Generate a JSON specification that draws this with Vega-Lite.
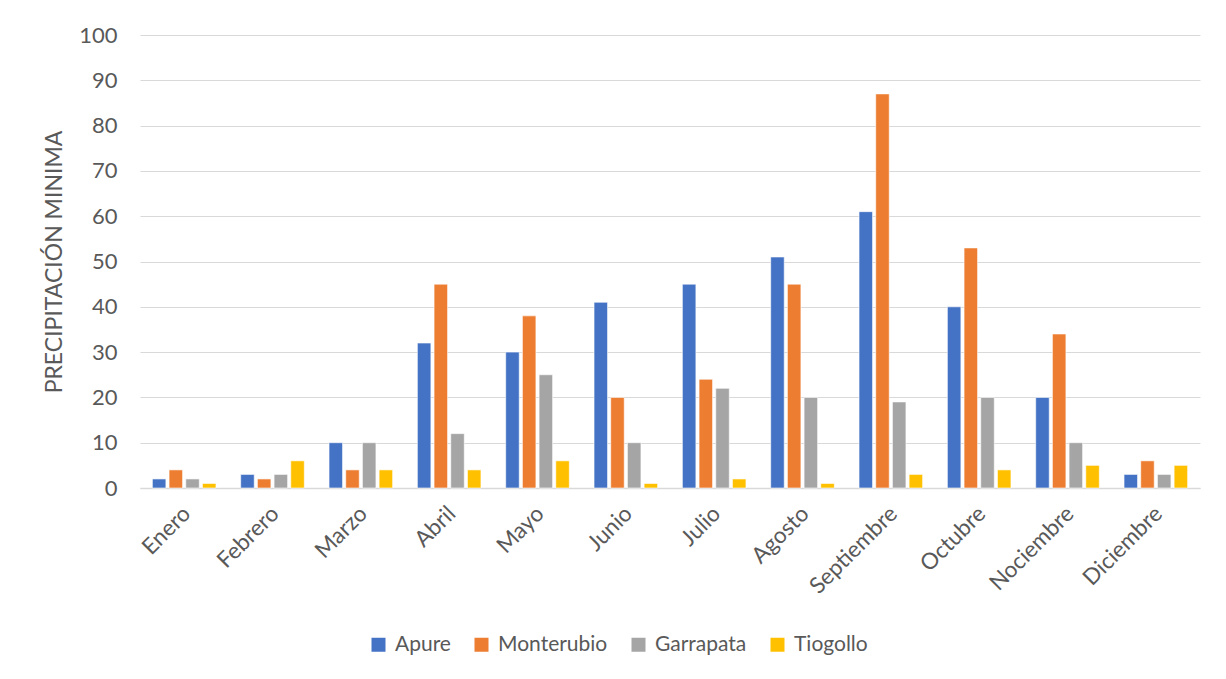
{
  "$schema": "https://vega.github.io/schema/vega-lite/v6.json",
  "width": 1060,
  "height": 453,
  "autosize": {"type": "none"},
  "padding": {"left": 140, "top": 35, "right": 26, "bottom": 191},
  "background": "white",
  "data": {"values": [
    {"mes": "Enero", "estacion": "Apure", "v": 2},
    {"mes": "Enero", "estacion": "Monterubio", "v": 4},
    {"mes": "Enero", "estacion": "Garrapata", "v": 2},
    {"mes": "Enero", "estacion": "Tiogollo", "v": 1},
    {"mes": "Febrero", "estacion": "Apure", "v": 3},
    {"mes": "Febrero", "estacion": "Monterubio", "v": 2},
    {"mes": "Febrero", "estacion": "Garrapata", "v": 3},
    {"mes": "Febrero", "estacion": "Tiogollo", "v": 6},
    {"mes": "Marzo", "estacion": "Apure", "v": 10},
    {"mes": "Marzo", "estacion": "Monterubio", "v": 4},
    {"mes": "Marzo", "estacion": "Garrapata", "v": 10},
    {"mes": "Marzo", "estacion": "Tiogollo", "v": 4},
    {"mes": "Abril", "estacion": "Apure", "v": 32},
    {"mes": "Abril", "estacion": "Monterubio", "v": 45},
    {"mes": "Abril", "estacion": "Garrapata", "v": 12},
    {"mes": "Abril", "estacion": "Tiogollo", "v": 4},
    {"mes": "Mayo", "estacion": "Apure", "v": 30},
    {"mes": "Mayo", "estacion": "Monterubio", "v": 38},
    {"mes": "Mayo", "estacion": "Garrapata", "v": 25},
    {"mes": "Mayo", "estacion": "Tiogollo", "v": 6},
    {"mes": "Junio", "estacion": "Apure", "v": 41},
    {"mes": "Junio", "estacion": "Monterubio", "v": 20},
    {"mes": "Junio", "estacion": "Garrapata", "v": 10},
    {"mes": "Junio", "estacion": "Tiogollo", "v": 1},
    {"mes": "Julio", "estacion": "Apure", "v": 45},
    {"mes": "Julio", "estacion": "Monterubio", "v": 24},
    {"mes": "Julio", "estacion": "Garrapata", "v": 22},
    {"mes": "Julio", "estacion": "Tiogollo", "v": 2},
    {"mes": "Agosto", "estacion": "Apure", "v": 51},
    {"mes": "Agosto", "estacion": "Monterubio", "v": 45},
    {"mes": "Agosto", "estacion": "Garrapata", "v": 20},
    {"mes": "Agosto", "estacion": "Tiogollo", "v": 1},
    {"mes": "Septiembre", "estacion": "Apure", "v": 61},
    {"mes": "Septiembre", "estacion": "Monterubio", "v": 87},
    {"mes": "Septiembre", "estacion": "Garrapata", "v": 19},
    {"mes": "Septiembre", "estacion": "Tiogollo", "v": 3},
    {"mes": "Octubre", "estacion": "Apure", "v": 40},
    {"mes": "Octubre", "estacion": "Monterubio", "v": 53},
    {"mes": "Octubre", "estacion": "Garrapata", "v": 20},
    {"mes": "Octubre", "estacion": "Tiogollo", "v": 4},
    {"mes": "Nociembre", "estacion": "Apure", "v": 20},
    {"mes": "Nociembre", "estacion": "Monterubio", "v": 34},
    {"mes": "Nociembre", "estacion": "Garrapata", "v": 10},
    {"mes": "Nociembre", "estacion": "Tiogollo", "v": 5},
    {"mes": "Diciembre", "estacion": "Apure", "v": 3},
    {"mes": "Diciembre", "estacion": "Monterubio", "v": 6},
    {"mes": "Diciembre", "estacion": "Garrapata", "v": 3},
    {"mes": "Diciembre", "estacion": "Tiogollo", "v": 5}
  ]},
  "mark": {"type": "bar", "stroke": "white", "strokeWidth": 0.6},
  "encoding": {
    "x": {
      "field": "mes", "type": "nominal",
      "sort": ["Enero","Febrero","Marzo","Abril","Mayo","Junio","Julio","Agosto","Septiembre","Octubre","Nociembre","Diciembre"],
      "scale": {"paddingInner": 0.28, "paddingOuter": 0.14},
      "axis": {
        "title": null,
        "labelAngle": -45,
        "labelAlign": "right",
        "labelBaseline": "top",
        "labelFontSize": 22.5,
        "labelColor": "#595959",
        "labelFont": "Lato",
        "labelPadding": 14,
        "labelOffset": -5,
        "ticks": false,
        "domainColor": "#d9d9d9",
        "domainWidth": 1.5,
        "grid": false
      }
    },
    "xOffset": {
      "field": "estacion", "type": "nominal",
      "sort": ["Apure","Monterubio","Garrapata","Tiogollo"],
      "scale": {"paddingInner": 0.19}
    },
    "y": {
      "field": "v", "type": "quantitative",
      "scale": {"domain": [0, 100], "nice": false},
      "axis": {
        "title": "PRECIPITACIÓN MINIMA",
        "titleFontSize": 23,
        "titleFontWeight": "normal",
        "titleColor": "#595959",
        "titleFont": "Lato",
        "titlePadding": 12,
        "values": [0,10,20,30,40,50,60,70,80,90,100],
        "labelFontSize": 22,
        "labelColor": "#595959",
        "labelFont": "Lato",
        "labelPadding": 23,
        "ticks": false,
        "domain": false,
        "gridColor": "#d9d9d9",
        "gridWidth": 1.2
      }
    },
    "color": {
      "field": "estacion", "type": "nominal",
      "sort": ["Apure","Monterubio","Garrapata","Tiogollo"],
      "scale": {"domain": ["Apure","Monterubio","Garrapata","Tiogollo"], "range": ["#4472C4","#ED7D31","#A5A5A5","#FFC000"]},
      "legend": {
        "title": null,
        "orient": "none",
        "direction": "horizontal",
        "legendX": 228,
        "legendY": 599,
        "symbolType": "square",
        "symbolSize": 196,
        "symbolStrokeWidth": 0,
        "labelFontSize": 21,
        "labelColor": "#595959",
        "labelFont": "Lato",
        "columnPadding": 20,
        "labelOffset": 6
      }
    }
  },
  "config": {"view": {"stroke": null}}
}
